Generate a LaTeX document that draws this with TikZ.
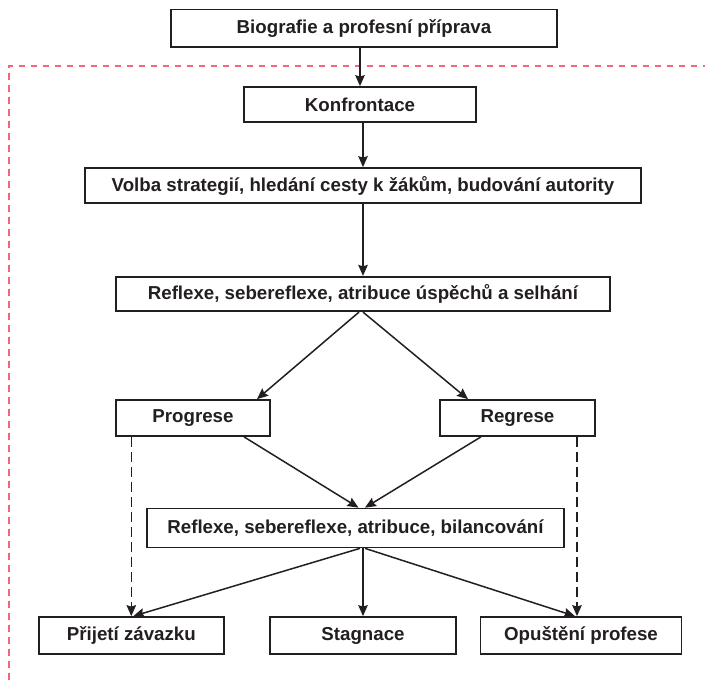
\documentclass[tikz,border=0pt]{standalone}
\usepackage{fontspec}
\setmainfont{Liberation Sans}
\usetikzlibrary{arrows.meta,calc}
\definecolor{ink}{HTML}{231F20}
\definecolor{frame}{HTML}{F2667A}
\tikzset{
  stepbox/.style={draw=ink, line width=1.7pt, fill=white, inner sep=0pt,
    minimum height=36pt, text=ink, font=\bfseries\fontsize{18.7}{21}\selectfont},
  arr/.style={draw=ink, line width=1.5pt,
    -{Stealth[length=11pt,width=9.5pt,inset=1.5pt]}},
  darr/.style={arr, dash pattern=on 10pt off 5pt},
  zone/.style={draw=frame, line width=2pt, dash pattern=on 6.7pt off 5.3pt}
}
\begin{document}
\begin{tikzpicture}[x=1pt,y=-1pt]
\useasboundingbox (0,0) rectangle (705,680);

% pink dashed zone (top and left edges only)
\draw[zone] (8.7,680) -- (8.7,66) -- (705,66);

% boxes
\node[stepbox, minimum width=386pt, minimum height=37.5pt] (bio) at (364,28.3) {Biografie a profesní příprava};
\node[stepbox, minimum width=232pt, minimum height=35pt] (konf) at (360,104.5) {Konfrontace};
\node[stepbox, minimum width=556pt, minimum height=35pt] (volba) at (363,185.5) {Volba strategií, hledání cesty k žákům, budování autority};
\node[stepbox, minimum width=494pt, minimum height=34.5pt] (refl) at (363,294) {Reflexe, sebereflexe, atribuce úspěchů a selhání};
\node[stepbox, minimum width=154pt] (prog) at (193,418) {Progrese};
\node[stepbox, minimum width=155pt] (regr) at (517.5,418) {Regrese};
\node[stepbox, minimum width=417pt, minimum height=39pt] (bil) at (355.5,528) {Reflexe, sebereflexe, atribuce, bilancování};
\node[stepbox, minimum width=185pt, minimum height=37pt] (prij) at (131.3,635.5) {Přijetí závazku};
\node[stepbox, minimum width=186pt, minimum height=37pt] (stag) at (363,635.5) {Stagnace};
\node[stepbox, minimum width=201pt, minimum height=37pt] (opus) at (581,635.5) {Opuštění profese};

% connectors
\draw[arr] (bio.south -| konf.north) -- (konf.north);
\draw[arr] (konf.south -| volba.north) -- (volba.north);
\draw[arr] (volba.south) -- (refl.north);
\draw[arr] ($(refl.south)+(-4,0)$) -- ($(prog.north)+(64,0)$);
\draw[arr] ($(refl.south)+(0,0)$) -- ($(regr.north)+(-49.5,0)$);
\draw[arr] ($(prog.south)+(51,0)$) -- ($(bil.north)+(3,0)$);
\draw[arr] ($(regr.south)+(-36.5,0)$) -- ($(bil.north)+(9.5,0)$);
\draw[darr] (prog.south -| prij.north) -- (prij.north);
\draw[darr] ($(regr.south)+(59.5,0)$) -- ($(opus.north)+(-4,0)$);
\draw[arr] ($(bil.south)+(4.5,0)$) -- ($(prij.north)+(2,0)$);
\draw[arr] (bil.south -| stag.north) -- (stag.north);
\draw[arr] ($(bil.south)+(9.5,0)$) -- ($(opus.north)+(-6,0)$);
\end{tikzpicture}
\end{document}
